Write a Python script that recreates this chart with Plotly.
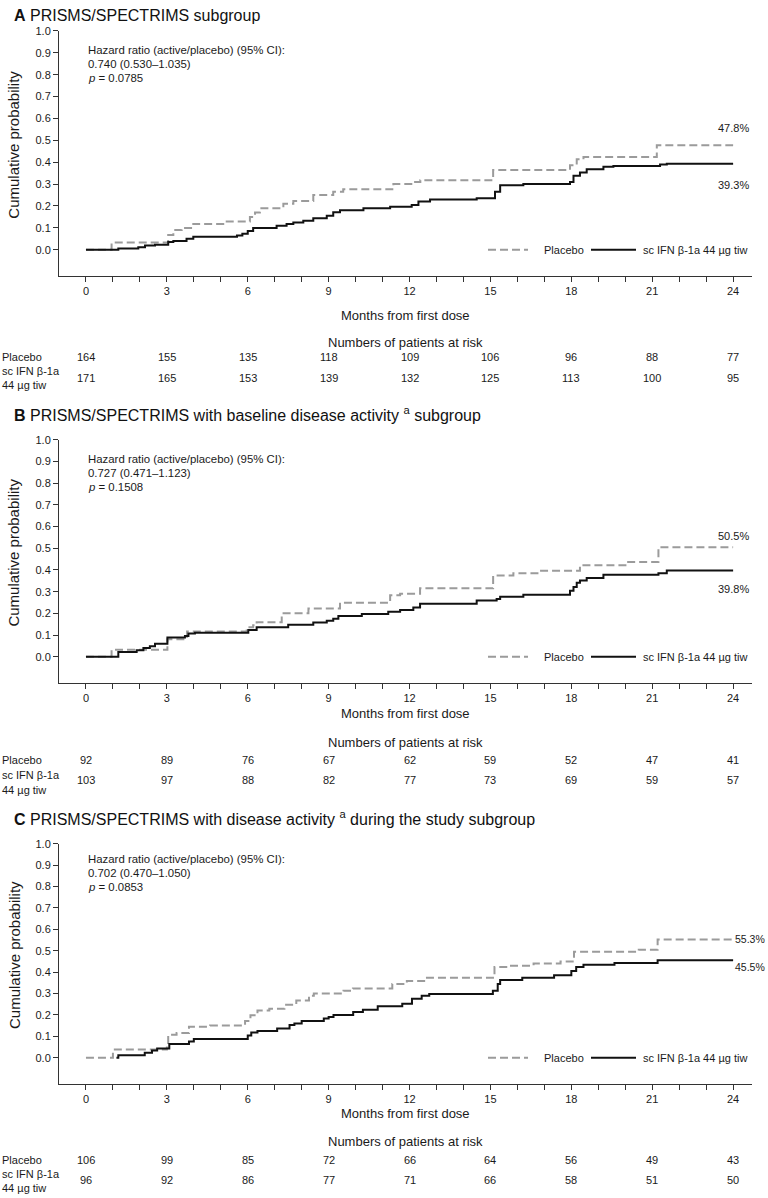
import plotly.graph_objects as go

# ---------------- data ----------------
month_ticks = [0, 3, 6, 9, 12, 15, 18, 21, 24]
y_ticks = [0.0, 0.1, 0.2, 0.3, 0.4, 0.5, 0.6, 0.7, 0.8, 0.9, 1.0]

# Panel A
A_placebo_t = [0, 0.95, 3.05, 3.24, 3.55, 3.98, 5.09, 6.08, 6.27, 6.45, 7.32, 7.69, 8.43, 9.17, 9.54,
               11.4, 12.14, 12.4, 15.1, 17.95, 18.2, 18.45, 21.17]
A_placebo_p = [0, 0.033, 0.068, 0.09, 0.10, 0.118, 0.129, 0.15, 0.17, 0.19, 0.21, 0.223, 0.25, 0.265, 0.277,
               0.30, 0.31, 0.318, 0.364, 0.386, 0.413, 0.424, 0.478]
A_active_t = [0, 1.2, 1.94, 2.19, 2.56, 3.05, 3.24, 3.73, 3.98, 5.6, 5.8, 6.0, 6.2, 7.07, 7.44, 7.69, 8.06,
              8.43, 8.93, 9.17, 9.42, 10.29, 11.28, 12.08, 12.33, 12.76, 14.49, 15.17, 15.36, 16.22, 17.95,
              18.08, 18.32, 18.57, 19.19, 19.56, 21.29, 21.54]
A_active_p = [0, 0.006, 0.012, 0.02, 0.023, 0.035, 0.04, 0.05, 0.06, 0.065, 0.073, 0.086, 0.10, 0.11, 0.118,
              0.124, 0.132, 0.144, 0.155, 0.171, 0.18, 0.19, 0.197, 0.205, 0.22, 0.23, 0.235, 0.265, 0.295,
              0.30, 0.31, 0.338, 0.353, 0.368, 0.379, 0.383, 0.39, 0.393]

# Panel B
B_placebo_t = [0, 0.95, 3.02, 3.75, 5.96, 6.2, 6.33, 7.26, 8.25, 9.42, 11.28, 11.65, 12.39, 15.1, 15.85,
               16.84, 18.32, 20.05, 21.23]
B_placebo_p = [0, 0.032, 0.081, 0.116, 0.136, 0.145, 0.159, 0.2, 0.222, 0.249, 0.284, 0.29, 0.316, 0.375,
               0.385, 0.396, 0.422, 0.437, 0.505]
B_active_t = [0, 1.2, 1.88, 2.13, 2.37, 2.56, 3.02, 3.67, 3.8, 4.04, 6.02, 6.33, 7.5, 8.43, 8.93, 9.17, 9.36,
              10.23, 11.21, 11.65, 12.14, 12.39, 14.49, 15.23, 15.36, 16.22, 17.95, 18.08, 18.2, 18.32,
              18.57, 19.19, 21.23, 21.54]
B_active_p = [0, 0.022, 0.03, 0.04, 0.048, 0.06, 0.089, 0.096, 0.107, 0.111, 0.123, 0.136, 0.148, 0.158,
              0.166, 0.175, 0.188, 0.197, 0.207, 0.215, 0.227, 0.244, 0.259, 0.266, 0.277, 0.286, 0.304,
              0.322, 0.341, 0.352, 0.363, 0.378, 0.385, 0.398]

# Panel C
C_placebo_t = [0, 1.0, 3.0, 3.05, 3.36, 3.82, 4.6, 5.9, 6.1, 6.36, 6.8, 7.36, 7.8, 8.27, 8.45, 9.55, 9.9,
               11.36, 11.9, 12.6, 15.15, 15.7, 16.6, 17.6, 18.1, 20.5, 21.2]
C_placebo_p = [0, 0.038, 0.061, 0.107, 0.115, 0.145, 0.15, 0.171, 0.198, 0.221, 0.229, 0.247, 0.267, 0.29,
               0.30, 0.313, 0.324, 0.344, 0.359, 0.374, 0.424, 0.43, 0.44, 0.45, 0.495, 0.505, 0.553]
C_active_t = [1.13, 1.2, 2.18, 2.45, 2.64, 3.09, 3.82, 4.0, 6.0, 6.13, 6.36, 7.09, 7.55, 7.73, 8.0, 8.82,
              9.0, 9.18, 9.91, 10.27, 10.82, 11.73, 12.09, 12.45, 12.73, 15.09, 15.27, 15.36, 16.18, 17.36,
              18.0, 18.18, 18.45, 19.6, 21.2]
C_active_p = [0, 0.011, 0.023, 0.034, 0.043, 0.064, 0.076, 0.087, 0.104, 0.118, 0.125, 0.137, 0.153, 0.16,
              0.171, 0.183, 0.19, 0.2, 0.214, 0.224, 0.24, 0.252, 0.275, 0.29, 0.298, 0.313, 0.344, 0.363,
              0.374, 0.385, 0.405, 0.424, 0.435, 0.443, 0.455]

# Numbers at risk
A_risk_placebo = [164, 155, 135, 118, 109, 106, 96, 88, 77]
A_risk_active = [171, 165, 153, 139, 132, 125, 113, 100, 95]
B_risk_placebo = [92, 89, 76, 67, 62, 59, 52, 47, 41]
B_risk_active = [103, 97, 88, 82, 77, 73, 69, 59, 57]
C_risk_placebo = [106, 99, 85, 72, 66, 64, 56, 49, 43]
C_risk_active = [96, 92, 86, 77, 71, 66, 58, 51, 50]

A_final_labels = ["47.8%", "39.3%"]
B_final_labels = ["50.5%", "39.8%"]
C_final_labels = ["55.3%", "45.5%"]

titles = [
    "<b>A</b> PRISMS/SPECTRIMS subgroup",
    "<b>B</b> PRISMS/SPECTRIMS with baseline disease activity <sup>a</sup> subgroup",
    "<b>C</b> PRISMS/SPECTRIMS with disease activity <sup>a</sup> during the study subgroup",
]
hr_texts = [
    ["Hazard ratio (active/placebo) (95% CI):", "0.740 (0.530\u20131.035)", "<i>p</i> = 0.0785"],
    ["Hazard ratio (active/placebo) (95% CI):", "0.727 (0.471\u20131.123)", "<i>p</i> = 0.1508"],
    ["Hazard ratio (active/placebo) (95% CI):", "0.702 (0.470\u20131.050)", "<i>p</i> = 0.0853"],
]
series_names = ["Placebo", "sc IFN \u03b2-1a 44 \u00b5g tiw"]

# ---------------- layout geometry (pixels) ----------------
W, H = 768, 1198
FONT = "Liberation Sans, Arial, Helvetica, sans-serif"
TXT = "#1a1a1a"
DASH_COLOR = "#9b9b9b"
SOLID_COLOR = "#111111"
DASH = "8px,4px"


def py(px):
    return 1 - px / H


def pxx(px):
    return px / W


panels = [
    dict(top=25, zero=245, bottom=271, title_y=10, hr_y=44, months_y=311, numbers_y=338,
         plac_y=353, act_y1=367, act_y2=381, act_num_y=374,
         placebo=(A_placebo_t, A_placebo_p), active=(A_active_t, A_active_p),
         risk=(A_risk_placebo, A_risk_active), labels=A_final_labels, lab_mode="above_below",
         lab_shift=(17, -21)),
    dict(top=436, zero=654, bottom=680, title_y=410, hr_y=455, months_y=711, numbers_y=740,
         plac_y=758, act_y1=773, act_y2=788, act_num_y=778,
         placebo=(B_placebo_t, B_placebo_p), active=(B_active_t, B_active_p),
         risk=(B_risk_placebo, B_risk_active), labels=B_final_labels, lab_mode="above_below",
         lab_shift=(11, -19)),
    dict(top=842, zero=1057, bottom=1083, title_y=816, hr_y=857, months_y=1113, numbers_y=1141,
         plac_y=1160, act_y1=1174, act_y2=1188, act_num_y=1180,
         placebo=(C_placebo_t, C_placebo_p), active=(C_active_t, C_active_p),
         risk=(C_risk_placebo, C_risk_active), labels=C_final_labels, lab_mode="right",
         lab_shift=(0, -7)),
]

X_LEFT, X_RIGHT = 59, 752
x_dom = [X_LEFT / W, X_RIGHT / W]
x_range = [-1.0, 24.7]

fig = go.Figure()
annotations = []
shapes = []
layout_axes = {}

for i, pn in enumerate(panels):
    k = "" if i == 0 else str(i + 1)
    xa, ya = "x" + k, "y" + k
    ppx = (pn["zero"] - pn["top"]) / 1.0  # pixels per unit probability
    y_min = -(pn["bottom"] - pn["zero"]) / ppx

    pt, pp = pn["placebo"]
    at, ap = pn["active"]
    fig.add_trace(go.Scatter(
        x=pt + [24], y=pp + [pp[-1]], mode="lines", line_shape="hv",
        line=dict(color=DASH_COLOR, width=2, dash=DASH),
        name=series_names[0], xaxis=xa, yaxis=ya, showlegend=False, hoverinfo="skip"))
    fig.add_trace(go.Scatter(
        x=at + [24], y=ap + [ap[-1]], mode="lines", line_shape="hv",
        line=dict(color=SOLID_COLOR, width=2),
        name=series_names[1], xaxis=xa, yaxis=ya, showlegend=False, hoverinfo="skip"))

    layout_axes["xaxis" + k] = dict(
        domain=x_dom, range=x_range, anchor=ya, showline=True, linecolor="#333", linewidth=1,
        showgrid=False, zeroline=False, tickmode="array", tickvals=month_ticks,
        ticktext=[str(m) for m in month_ticks], ticks="outside", ticklen=5, tickcolor="#333",
        tickfont=dict(family=FONT, size=11, color=TXT),
        minor=dict(tickmode="array", tickvals=list(range(0, 25)), ticks="outside", ticklen=5,
                   tickcolor="#333", showgrid=False),
        fixedrange=True)
    layout_axes["yaxis" + k] = dict(
        domain=[py(pn["bottom"]), py(pn["top"])], range=[y_min, 1.0], anchor=xa, showline=True,
        linecolor="#333", linewidth=1, showgrid=False, zeroline=False, tickmode="array",
        tickvals=y_ticks, ticktext=[f"{v:.1f}" for v in y_ticks], ticks="outside", ticklen=5,
        tickcolor="#333", tickfont=dict(family=FONT, size=11, color=TXT), fixedrange=True)

    # manual legend at the 0.0 level
    ly = py(pn["zero"])
    shapes.append(dict(type="line", xref="paper", yref="paper", x0=pxx(488), x1=pxx(528), y0=ly, y1=ly,
                       line=dict(color=DASH_COLOR, width=2, dash=DASH)))
    annotations.append(dict(text=series_names[0], x=pxx(542), y=ly, xref="paper", yref="paper",
                            xanchor="left", yanchor="middle", showarrow=False,
                            font=dict(family=FONT, size=11, color=TXT)))
    shapes.append(dict(type="line", xref="paper", yref="paper", x0=pxx(591), x1=pxx(636), y0=ly, y1=ly,
                       line=dict(color=SOLID_COLOR, width=2)))
    annotations.append(dict(text=series_names[1], x=pxx(641), y=ly, xref="paper", yref="paper",
                            xanchor="left", yanchor="middle", showarrow=False,
                            font=dict(family=FONT, size=11, color=TXT)))

    # title
    annotations.append(dict(text=titles[i], x=pxx(12), y=py(pn["title_y"]), xref="paper", yref="paper",
                            xanchor="left", yanchor="middle", showarrow=False,
                            font=dict(family=FONT, size=16, color="#111")))
    # hazard ratio text
    for j, line in enumerate(hr_texts[i]):
        annotations.append(dict(text=line, x=0, y=py(pn["hr_y"] + 14 * j), xref=xa, yref="paper",
                                xanchor="left", yanchor="middle", showarrow=False,
                                font=dict(family=FONT, size=11.4, color=TXT)))
    # y-axis title
    annotations.append(dict(text="Cumulative probability", x=pxx(14),
                            y=py(pn["zero"] - 0.48 * ppx), xref="paper", yref="paper",
                            xanchor="center", yanchor="middle", textangle=-90, showarrow=False,
                            font=dict(family=FONT, size=15, color=TXT)))
    # x-axis title
    annotations.append(dict(text="Months from first dose", x=(X_LEFT + X_RIGHT) / 2 / W,
                            y=py(pn["months_y"]), xref="paper", yref="paper", xanchor="center",
                            yanchor="middle", showarrow=False,
                            font=dict(family=FONT, size=13, color=TXT)))
    annotations.append(dict(text="Numbers of patients at risk", x=(X_LEFT + X_RIGHT) / 2 / W,
                            y=py(pn["numbers_y"]), xref="paper", yref="paper", xanchor="center",
                            yanchor="middle", showarrow=False,
                            font=dict(family=FONT, size=13, color=TXT)))
    # risk table
    rp, ra = pn["risk"]
    annotations.append(dict(text="Placebo", x=0, y=py(pn["plac_y"]), xref="paper", yref="paper",
                            xanchor="left", yanchor="middle", showarrow=False,
                            font=dict(family=FONT, size=11, color=TXT)))
    annotations.append(dict(text="sc IFN \u03b2-1a", x=0, y=py(pn["act_y1"]), xref="paper",
                            yref="paper", xanchor="left", yanchor="middle", showarrow=False,
                            font=dict(family=FONT, size=11, color=TXT)))
    annotations.append(dict(text="44 \u00b5g tiw", x=0, y=py(pn["act_y2"]), xref="paper",
                            yref="paper", xanchor="left", yanchor="middle", showarrow=False,
                            font=dict(family=FONT, size=11, color=TXT)))
    for m, vp, va in zip(month_ticks, rp, ra):
        annotations.append(dict(text=str(vp), x=m, y=py(pn["plac_y"]), xref=xa, yref="paper",
                                xanchor="center", yanchor="middle", showarrow=False,
                                font=dict(family=FONT, size=11, color=TXT)))
        annotations.append(dict(text=str(va), x=m, y=py(pn["act_num_y"]), xref=xa, yref="paper",
                                xanchor="center", yanchor="middle", showarrow=False,
                                font=dict(family=FONT, size=11, color=TXT)))
    # final percentage labels
    finals = [pp[-1], ap[-1]]
    for lab, fv, sh in zip(pn["labels"], finals, pn["lab_shift"]):
        if pn["lab_mode"] == "right":
            annotations.append(dict(text=lab, x=1.0, y=fv, xref="paper", yref=ya, xanchor="right",
                                    yanchor="middle", xshift=-1, yshift=sh, showarrow=False,
                                    font=dict(family=FONT, size=10.5, color=TXT)))
        else:
            annotations.append(dict(text=lab, x=24, y=fv, xref=xa, yref=ya, xanchor="center",
                                    yanchor="middle", yshift=sh, showarrow=False,
                                    font=dict(family=FONT, size=11, color=TXT)))

fig.update_layout(
    width=W, height=H, margin=dict(l=0, r=0, t=0, b=0),
    paper_bgcolor="white", plot_bgcolor="white", showlegend=False,
    font=dict(family=FONT, size=11, color=TXT),
    annotations=annotations, shapes=shapes, **layout_axes)

# remove the browser's default 8px body margin so the figure sits at the page origin
fig.write_html("out.html", config={"displayModeBar": False},
               post_script="document.body.style.margin='0';document.body.style.overflow='hidden';")
